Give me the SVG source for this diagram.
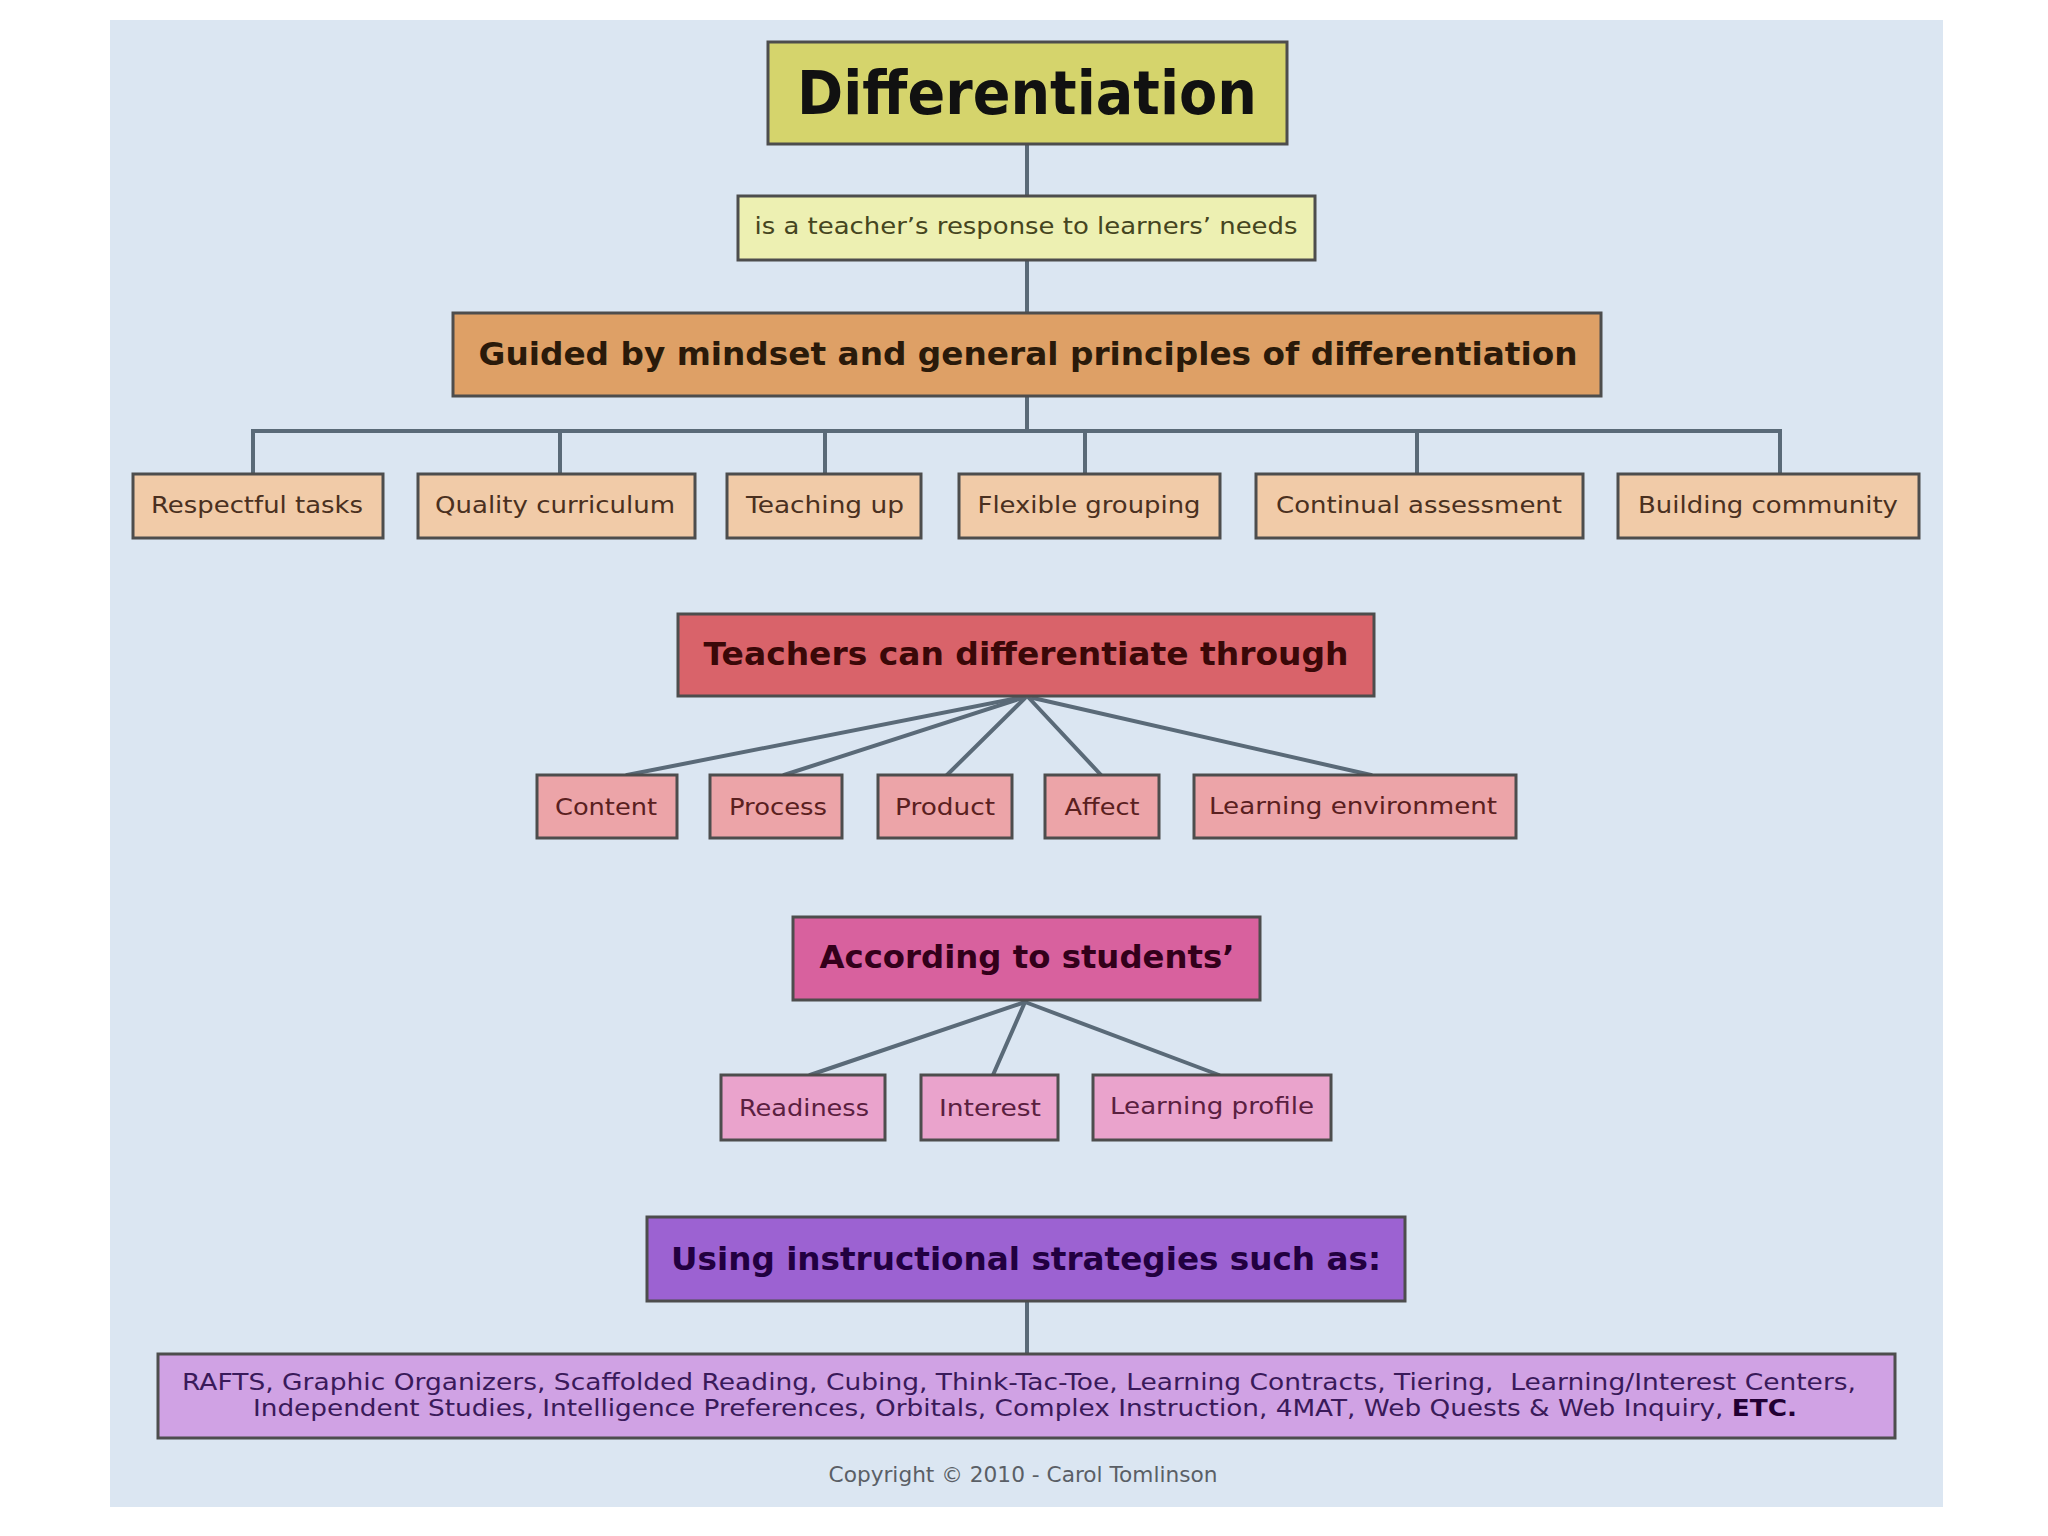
<svg xmlns="http://www.w3.org/2000/svg" width="2048" height="1536" viewBox="0 0 2048 1536">
<style>
  .box { stroke: #4d4d4d; stroke-width: 3; }
  .t { font-family: "DejaVu Sans", Verdana, sans-serif; text-anchor: middle; }
  .b { font-weight: bold; }
  .s { font-size: 23px; }
  .h { font-size: 32px; }
  .conn { stroke: #5a6a78; stroke-width: 4; fill: none; stroke-linecap: round; }
</style>
<rect x="0" y="0" width="2048" height="1536" fill="#ffffff"/>
<rect x="110" y="20" width="1833" height="1487" fill="#dbe6f2"/>

<g id="connectors">
  <line class="conn" x1="1027" y1="144" x2="1027" y2="196"/>
  <line class="conn" x1="1027" y1="260" x2="1027" y2="313"/>
  <line class="conn" x1="1027" y1="396" x2="1027" y2="431"/>
  <polyline class="conn" points="253,474 253,431 1780,431 1780,474"/>
  <line class="conn" x1="560" y1="431" x2="560" y2="474"/>
  <line class="conn" x1="825" y1="431" x2="825" y2="474"/>
  <line class="conn" x1="1085" y1="431" x2="1085" y2="474"/>
  <line class="conn" x1="1417" y1="431" x2="1417" y2="474"/>
  <line class="conn" x1="1018" y1="698" x2="627" y2="775"/>
  <line class="conn" x1="1022" y1="698" x2="784" y2="775"/>
  <line class="conn" x1="1025" y1="698" x2="947" y2="775"/>
  <line class="conn" x1="1029" y1="698" x2="1101" y2="775"/>
  <line class="conn" x1="1033" y1="698" x2="1371" y2="775"/>
  <line class="conn" x1="1025" y1="1002" x2="810" y2="1075"/>
  <line class="conn" x1="1025" y1="1002" x2="993" y2="1075"/>
  <line class="conn" x1="1025" y1="1002" x2="1219" y2="1075"/>
  <line class="conn" x1="1027" y1="1301" x2="1027" y2="1354"/>
</g>

<g id="differentiation">
  <rect class="box" x="768" y="42" width="519" height="102" fill="#d5d46c"/>
  <text class="t b" x="1027" y="114" font-size="60" fill="#111111" textLength="460" lengthAdjust="spacingAndGlyphs">Differentiation</text>
</g>
<g id="response">
  <rect class="box" x="738" y="196" width="577" height="64" fill="#edf0b2"/>
  <text class="t s" x="1026" y="234" fill="#454520" textLength="543" lengthAdjust="spacingAndGlyphs">is a teacher’s response to learners’ needs</text>
</g>
<g id="guided">
  <rect class="box" x="453" y="313" width="1148" height="83" fill="#dea066"/>
  <text class="t b h" x="1028" y="365" fill="#2a1a0a" textLength="1099" lengthAdjust="spacingAndGlyphs">Guided by mindset and general principles of differentiation</text>
</g>

<g id="respectful-tasks">
  <rect class="box" x="133" y="474" width="250" height="64" fill="#f1cba8"/>
  <text class="t s" x="257" y="513" fill="#4a3020" textLength="212" lengthAdjust="spacingAndGlyphs">Respectful tasks</text>
</g>
<g id="quality-curriculum">
  <rect class="box" x="418" y="474" width="277" height="64" fill="#f1cba8"/>
  <text class="t s" x="555" y="513" fill="#4a3020" textLength="240" lengthAdjust="spacingAndGlyphs">Quality curriculum</text>
</g>
<g id="teaching-up">
  <rect class="box" x="727" y="474" width="194" height="64" fill="#f1cba8"/>
  <text class="t s" x="825" y="513" fill="#4a3020" textLength="158" lengthAdjust="spacingAndGlyphs">Teaching up</text>
</g>
<g id="flexible-grouping">
  <rect class="box" x="959" y="474" width="261" height="64" fill="#f1cba8"/>
  <text class="t s" x="1089" y="513" fill="#4a3020" textLength="223" lengthAdjust="spacingAndGlyphs">Flexible grouping</text>
</g>
<g id="continual-assessment">
  <rect class="box" x="1256" y="474" width="327" height="64" fill="#f1cba8"/>
  <text class="t s" x="1419" y="513" fill="#4a3020" textLength="286" lengthAdjust="spacingAndGlyphs">Continual assessment</text>
</g>
<g id="building-community">
  <rect class="box" x="1618" y="474" width="301" height="64" fill="#f1cba8"/>
  <text class="t s" x="1768" y="513" fill="#4a3020" textLength="260" lengthAdjust="spacingAndGlyphs">Building community</text>
</g>

<g id="teachers">
  <rect class="box" x="678" y="614" width="696" height="82" fill="#d9636a"/>
  <text class="t b h" x="1026" y="665" fill="#3a0808" textLength="645" lengthAdjust="spacingAndGlyphs">Teachers can differentiate through</text>
</g>
<g id="content">
  <rect class="box" x="537" y="775" width="140" height="63" fill="#eca4a8"/>
  <text class="t s" x="606" y="815" fill="#5a2020" textLength="102" lengthAdjust="spacingAndGlyphs">Content</text>
</g>
<g id="process">
  <rect class="box" x="710" y="775" width="132" height="63" fill="#eca4a8"/>
  <text class="t s" x="778" y="815" fill="#5a2020" textLength="98" lengthAdjust="spacingAndGlyphs">Process</text>
</g>
<g id="product">
  <rect class="box" x="878" y="775" width="134" height="63" fill="#eca4a8"/>
  <text class="t s" x="945" y="815" fill="#5a2020" textLength="100" lengthAdjust="spacingAndGlyphs">Product</text>
</g>
<g id="affect">
  <rect class="box" x="1045" y="775" width="114" height="63" fill="#eca4a8"/>
  <text class="t s" x="1102" y="815" fill="#5a2020" textLength="75" lengthAdjust="spacingAndGlyphs">Affect</text>
</g>
<g id="learning-environment">
  <rect class="box" x="1194" y="775" width="322" height="63" fill="#eca4a8"/>
  <text class="t s" x="1353" y="814" fill="#5a2020" textLength="288" lengthAdjust="spacingAndGlyphs">Learning environment</text>
</g>

<g id="according">
  <rect class="box" x="793" y="917" width="467" height="83" fill="#d8619e"/>
  <text class="t b h" x="1027" y="968" fill="#33001a" textLength="415" lengthAdjust="spacingAndGlyphs">According to students’</text>
</g>
<g id="readiness">
  <rect class="box" x="721" y="1075" width="164" height="65" fill="#eaa3cc"/>
  <text class="t s" x="804" y="1116" fill="#5a2040" textLength="130" lengthAdjust="spacingAndGlyphs">Readiness</text>
</g>
<g id="interest">
  <rect class="box" x="921" y="1075" width="137" height="65" fill="#eaa3cc"/>
  <text class="t s" x="990" y="1116" fill="#5a2040" textLength="102" lengthAdjust="spacingAndGlyphs">Interest</text>
</g>
<g id="learning-profile">
  <rect class="box" x="1093" y="1075" width="238" height="65" fill="#eaa3cc"/>
  <text class="t s" x="1212" y="1114" fill="#5a2040" textLength="204" lengthAdjust="spacingAndGlyphs">Learning profile</text>
</g>

<g id="using">
  <rect class="box" x="647" y="1217" width="758" height="84" fill="#9c62d2"/>
  <text class="t b h" x="1026" y="1270" fill="#220040" textLength="710" lengthAdjust="spacingAndGlyphs">Using instructional strategies such as:</text>
</g>
<g id="strategies">
  <rect class="box" x="158" y="1354" width="1737" height="84" fill="#d0a2e4"/>
  <text class="t" x="1019" y="1390" font-size="23" fill="#3a1a5a" textLength="1674" lengthAdjust="spacingAndGlyphs">RAFTS, Graphic Organizers, Scaffolded Reading, Cubing, Think-Tac-Toe, Learning Contracts, Tiering,&#160; Learning/Interest Centers,</text>
  <text class="t" x="1025" y="1416" font-size="23" fill="#3a1a5a" textLength="1544" lengthAdjust="spacingAndGlyphs">Independent Studies, Intelligence Preferences, Orbitals, Complex Instruction, 4MAT, Web Quests &amp; Web Inquiry, <tspan font-weight="bold" fill="#220033">ETC.</tspan></text>
</g>

<text id="copyright" class="t" x="1023" y="1482" font-size="21" fill="#5a5f66" textLength="389" lengthAdjust="spacingAndGlyphs">Copyright © 2010 - Carol Tomlinson</text>
</svg>
